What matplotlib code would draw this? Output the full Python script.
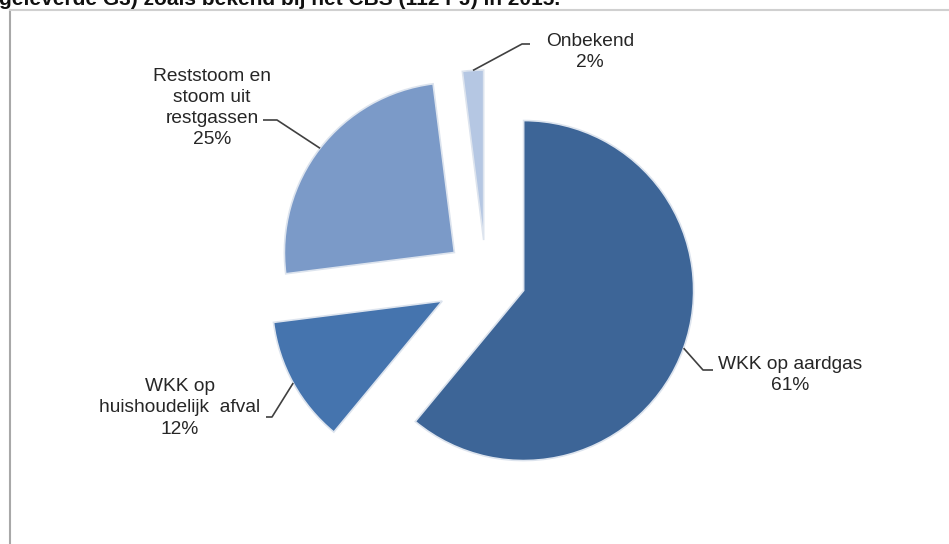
import numpy as np
import matplotlib.pyplot as plt
from matplotlib.lines import Line2D

# data
labels = ['WKK op aardgas', 'WKK op\nhuishoudelijk  afval',
          'Reststoom en\nstoom uit\nrestgassen', 'Onbekend']
shares = [61, 12, 25, 2]
colors = ['#3d6597', '#4574ae', '#7b9ac8', '#b5c7e3']
title = 'geleverde G3) zoals bekend bij het CBS (112 PJ) in 2015.'

W, H = 949, 544
fig = plt.figure(figsize=(W / 100, H / 100), dpi=100)
ax = fig.add_axes([0, 0, 1, 1])

# pixel-like data coords, y up
explode = [40, 50, 40, 37]
wedges, _ = ax.pie(shares, colors=colors, explode=explode, startangle=90,
                   counterclock=False, center=(486, H - 277), radius=170,
                   wedgeprops=dict(edgecolor='#dde4ee', linewidth=1.2))
ax.set_xlim(0, W)
ax.set_ylim(0, H)
ax.axis('off')

# label layout: (elbow, line end, text center) in screen px (y down)
layout = [
    ((703, 370), (713, 370), (790, 375)),
    ((272, 417), (266, 417), (180, 408)),
    ((277, 120), (263, 120), (212, 108)),
    ((522, 44), (530, 44), (590, 52)),
]

for w, lab, val, (elb, end, tc) in zip(wedges, labels, shares, layout):
    mid = np.deg2rad(0.5 * (w.theta1 + w.theta2))
    ax_ = w.center[0] + w.r * np.cos(mid)
    ay_ = w.center[1] + w.r * np.sin(mid)
    ax.plot([ax_, elb[0], end[0]], [ay_, H - elb[1], H - end[1]],
            color='#404040', lw=1.2, solid_capstyle='butt')
    ax.text(tc[0], H - tc[1], f'{lab}\n{val}%', ha='center', va='center',
            fontsize=13.8, family='Liberation Sans', color='#262626',
            linespacing=1.32)

# cut-off heading at the top
fig.text(-1 / W, 1 - 5 / H, title, ha='left', va='baseline', fontsize=15,
         fontweight='bold', family='Liberation Sans', color='#111111')

# frame lines of the box
fig.add_artist(Line2D([10 / W, 10 / W], [0, 1 - 10 / H], color='#a8a8a8', lw=1.5))
fig.add_artist(Line2D([10 / W, 1], [1 - 10 / H, 1 - 10 / H], color='#d0d0d0', lw=1.5))

fig.savefig('out.png', dpi=100, facecolor='white')
